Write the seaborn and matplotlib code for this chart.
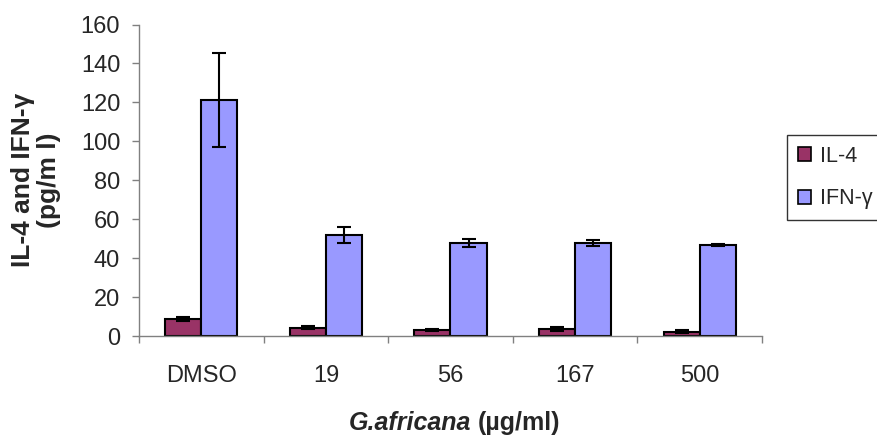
import matplotlib
matplotlib.use("Agg")
import matplotlib.pyplot as plt
import seaborn as sns
import pandas as pd
import numpy as np
from matplotlib.patches import Patch

categories = ["DMSO", "19", "56", "167", "500"]
series = ["IL-4", "IFN-γ"]
il4 = [8.7, 4.3, 3.0, 3.6, 2.2]
il4_err = [1.0, 0.8, 0.4, 0.8, 0.8]
ifn = [121.2, 51.9, 47.6, 47.6, 46.7]
ifn_err = [24.0, 4.2, 2.0, 1.5, 0.6]
colors = ["#993366", "#9999FF"]

sns.set_style("white")
plt.rcParams["font.family"] = ["Liberation Sans", "DejaVu Sans"]

df = pd.DataFrame({
    "cat": categories * 2,
    "series": [series[0]] * 5 + [series[1]] * 5,
    "val": il4 + ifn,
})

fig = plt.figure(figsize=(8.78, 4.36), dpi=100)
ax = fig.add_axes([139 / 878, 1 - 336 / 436, (762 - 139) / 878, (336 - 24.5) / 436])

sns.barplot(data=df, x="cat", y="val", hue="series", order=categories,
            hue_order=series, palette=colors, width=0.58, errorbar=None,
            edgecolor="black", linewidth=1.5, saturation=1, ax=ax, legend=False)

errs = il4_err + ifn_err
vals = il4 + ifn
bars = [p for p in ax.patches if p.get_height() > 0]
bars = sorted(bars, key=lambda p: p.get_x())
for i, p in enumerate(bars):
    cat_i = i // 2
    s_i = i % 2
    v = vals[s_i * 5 + cat_i]
    e = errs[s_i * 5 + cat_i]
    ax.errorbar(p.get_x() + p.get_width() / 2, v, yerr=e, fmt="none",
                ecolor="black", elinewidth=1.5, capsize=5, capthick=1.5, zorder=5)

ax.set_ylim(0, 160)
ax.set_yticks(np.arange(0, 161, 20))
ax.set_xlim(-0.5, 4.5)
ax.set_xticks(range(5))
ax.set_xticklabels(categories)
ax.set_xticks(np.arange(-0.5, 4.6, 1), minor=True)
ax.tick_params(axis="x", which="major", length=0, labelsize=17, pad=21)
ax.tick_params(axis="x", which="minor", length=5, width=1, color="#808080",
               direction="out", bottom=True)
ax.tick_params(axis="y", length=5, width=1, color="#808080", direction="out",
               labelsize=17, pad=8.5, left=True)
for s in ["top", "right"]:
    ax.spines[s].set_visible(False)
for s in ["left", "bottom"]:
    ax.spines[s].set_color("#808080")
    ax.spines[s].set_linewidth(1)

ax.set_xlabel("")
ax.set_ylabel("IL-4 and IFN-γ\n(pg/m l)", fontsize=19, fontweight="bold",
              labelpad=14, linespacing=1.1)

fig.text(471 / 878, 1 - 423 / 436, "G.africana", fontsize=18, fontweight="bold",
         fontstyle="italic", ha="right", va="center")
fig.text(478 / 878, 1 - 423 / 436, "(µg/ml)", fontsize=18, fontweight="bold",
         ha="left", va="center")

handles = [Patch(facecolor=c, edgecolor="black", linewidth=1.2) for c in colors]
leg = fig.legend(handles, series, loc="upper left",
                 bbox_to_anchor=(787 / 878, 1 - 135 / 436), borderaxespad=0,
                 fontsize=15.5, frameon=True, fancybox=False, handlelength=0.6,
                 handleheight=0.6, handletextpad=0.42, labelspacing=1.0,
                 borderpad=0.5)
leg.get_frame().set_edgecolor("black")
leg.get_frame().set_linewidth(1)

fig.savefig("out.png", dpi=100)
